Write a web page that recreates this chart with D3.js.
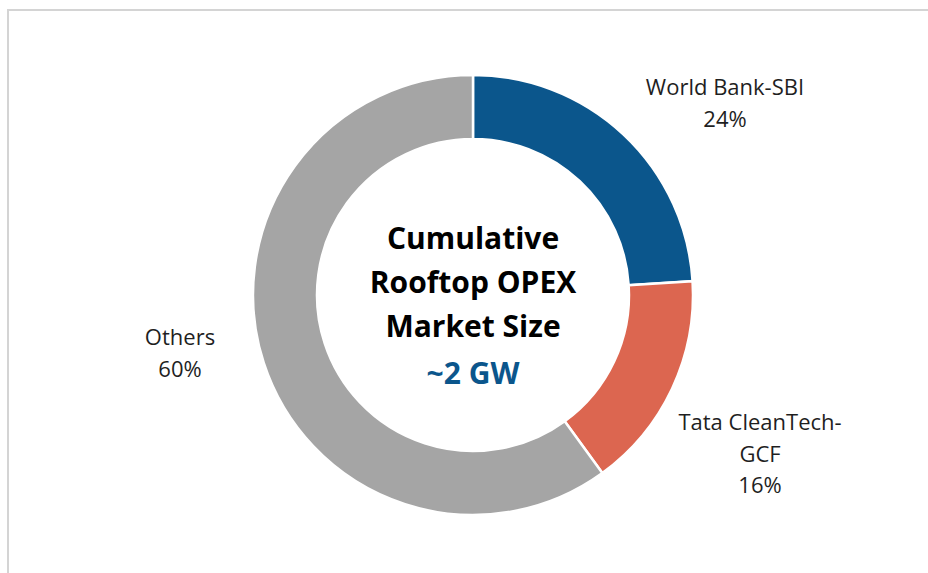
<!DOCTYPE html>
<html>
<head>
<meta charset="utf-8">
<script src="https://cdn.jsdelivr.net/npm/d3@7"></script>
<style>
  html, body { margin: 0; padding: 0; background: #fff; }
  svg { display: block; font-family: "Open Sans", "Liberation Sans", sans-serif; }
</style>
</head>
<body>
<div id="chart"></div>
<script>
// Donut chart: rooftop OPEX market share

const width = 928;
const height = 573;

// data
const categories = ['World Bank-SBI', 'Tata CleanTech-GCF', 'Others'];
const shares = [24, 16, 60];
const colors = ['#0b568c', '#dc6650', '#a5a5a5'];
const labelLines = [['World Bank-SBI', '24%'], ['Tata CleanTech-', 'GCF', '16%'], ['Others', '60%']];
const centerLines = ['Cumulative', 'Rooftop OPEX', 'Market Size'];
const centerValue = '~2 GW';

// layout
const cx = 473, cy = 295;
const outerR = 220, innerR = 156;
// label anchor offsets from centre (Excel "best fit" placement)
const labelOffsets = [[252, -200], [287, 135], [-293, 50]];
const labelLineHeight = 31.5;

const svg = d3.select('#chart')
    .append('svg')
    .attr('width', width)
    .attr('height', height);

// chart frame
svg.append('rect')
    .attr('x', 8)
    .attr('y', 10)
    .attr('width', width + 20)
    .attr('height', height + 20)
    .attr('fill', 'none')
    .attr('stroke', '#d4d4d4')
    .attr('stroke-width', 2);

const data = categories.map((c, i) => ({ name: c, value: shares[i], color: colors[i], lines: labelLines[i] }));

const pie = d3.pie()
    .sort(null)
    .value(d => d.value)
    .startAngle(0)
    .endAngle(2 * Math.PI);

const arc = d3.arc()
    .innerRadius(innerR)
    .outerRadius(outerR);

const g = svg.append('g')
    .attr('transform', `translate(${cx},${cy})`);

g.selectAll('path.slice')
    .data(pie(data))
    .enter()
    .append('path')
    .attr('class', 'slice')
    .attr('d', arc)
    .attr('fill', d => d.data.color)
    .attr('stroke', '#fff')
    .attr('stroke-width', 2.5);

// slice labels
const labels = g.selectAll('text.label')
    .data(data)
    .enter()
    .append('text')
    .attr('class', 'label')
    .attr('text-anchor', 'middle')
    .attr('font-size', '22px')
    .attr('fill', '#1f1f1f');

labels.each(function(d, i) {
    const t = d3.select(this);
    const [ox, oy] = labelOffsets[i];
    d.lines.forEach((line, j) => {
        t.append('tspan')
            .attr('x', ox)
            .attr('y', oy + j * labelLineHeight)
            .text(line);
    });
});

// centre title
const title = g.append('text')
    .attr('text-anchor', 'middle')
    .attr('font-size', '30px')
    .attr('font-weight', 'bold');

centerLines.forEach((line, j) => {
    title.append('tspan')
        .attr('x', 0)
        .attr('y', -46 + j * 44)
        .attr('fill', '#000')
        .text(line);
});
title.append('tspan')
    .attr('x', 0)
    .attr('y', -46 + centerLines.length * 44 + 3)
    .attr('fill', '#0b568c')
    .text(centerValue);
</script>
</body>
</html>
